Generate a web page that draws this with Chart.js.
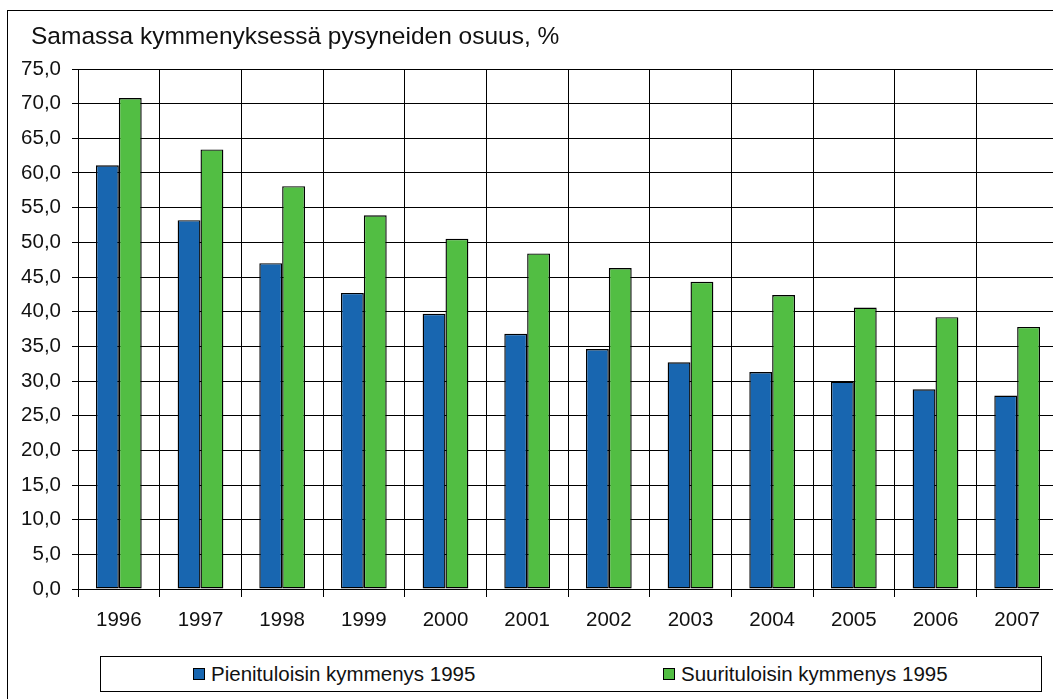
<!DOCTYPE html>
<html>
<head>
<meta charset="utf-8">
<script src="https://cdn.jsdelivr.net/npm/chart.js@4/dist/chart.umd.min.js"></script>
<style>
    html, body {
        margin: 0;
        padding: 0;
        width: 1053px;
        height: 699px;
        overflow: hidden;
        background: #fff;
        font-family: "Liberation Sans", Arial, sans-serif;
    }
    #frame {
        position: absolute;
        left: 7px;
        top: 10px;
        width: 1100px;
        height: 760px;
        border: 1px solid #000;
    }
    #wrap {
        position: absolute;
        left: 0;
        top: 0;
        width: 1058px;
        height: 699px;
    }
    #title {
        position: absolute;
        left: 31px;
        top: 22px;
        font-size: 24.5px;
        line-height: 28px;
        color: #111;
        white-space: nowrap;
    }
    #legend {
        position: absolute;
        left: 100px;
        top: 656px;
        width: 940px;
        height: 34px;
        border: 1px solid #000;
        background: #fff;
        font-size: 20.5px;
        color: #111;
    }
    .item {
        position: absolute;
        top: 0;
        height: 34px;
        display: flex;
        align-items: center;
        white-space: nowrap;
    }
    .swatch {
        display: inline-block;
        width: 10px;
        height: 10px;
        border: 1px solid #000;
        margin-right: 6px;
    }
</style>
</head>
<body>
<div id="frame"></div>
<div id="wrap"><canvas id="chart"></canvas></div>
<div id="title">Samassa kymmenyksessä pysyneiden osuus, %</div>
<div id="legend">
    <div class="item" style="left:92px"><span class="swatch" style="background:#1866b0"></span>Pienituloisin kymmenys 1995</div>
    <div class="item" style="left:562px"><span class="swatch" style="background:#52be43"></span>Suurituloisin kymmenys 1995</div>
</div>
<script>
const years = ['1996', '1997', '1998', '1999', '2000', '2001', '2002', '2003', '2004', '2005', '2006', '2007'];
const lowIncome = [61.1, 53.2, 47.0, 42.7, 39.7, 36.8, 34.6, 32.7, 31.3, 29.9, 28.8, 27.9];
const highIncome = [70.8, 63.4, 58.1, 53.9, 50.5, 48.4, 46.3, 44.3, 42.4, 40.6, 39.2, 37.8];
const seriesNames = ['Pienituloisin kymmenys 1995', 'Suurituloisin kymmenys 1995'];

const tickFont = { family: '"Liberation Sans", Arial, sans-serif', size: 20.5 };

new Chart(document.getElementById('chart'), {
    type: 'bar',
    data: {
        labels: years,
        datasets: [
            {
                label: seriesNames[0],
                data: lowIncome,
                backgroundColor: '#1866b0',
                borderColor: '#000',
                borderWidth: 1.4,
                borderSkipped: false
            },
            {
                label: seriesNames[1],
                data: highIncome,
                backgroundColor: '#52be43',
                borderColor: '#000',
                borderWidth: 1.4,
                borderSkipped: false
            }
        ]
    },
    options: {
        responsive: true,
        maintainAspectRatio: false,
        animation: false,
        categoryPercentage: 0.56,
        barPercentage: 1,
        layout: {
            padding: { top: 69, left: 0, right: 0, bottom: 0 }
        },
        plugins: {
            legend: { display: false },
            tooltip: { enabled: false }
        },
        scales: {
            x: {
                grid: {
                    color: '#000',
                    lineWidth: 1,
                    tickLength: 8,
                    offset: true
                },
                border: { color: '#000' },
                ticks: {
                    color: '#111',
                    font: tickFont,
                    padding: 11,
                    maxRotation: 0
                },
                afterFit(scale) {
                    scale.height = 110
                }
            },
            y: {
                min: 0,
                max: 75,
                grid: {
                    color: '#000',
                    lineWidth: 1,
                    tickLength: 6
                },
                border: { color: '#000' },
                ticks: {
                    stepSize: 5,
                    color: '#111',
                    font: tickFont,
                    padding: 11,
                    callback: (v) => v.toFixed(1).replace('.', ',')
                },
                afterFit(scale) {
                    scale.width = 78
                }
            }
        }
    }
});
</script>
</body>
</html>
